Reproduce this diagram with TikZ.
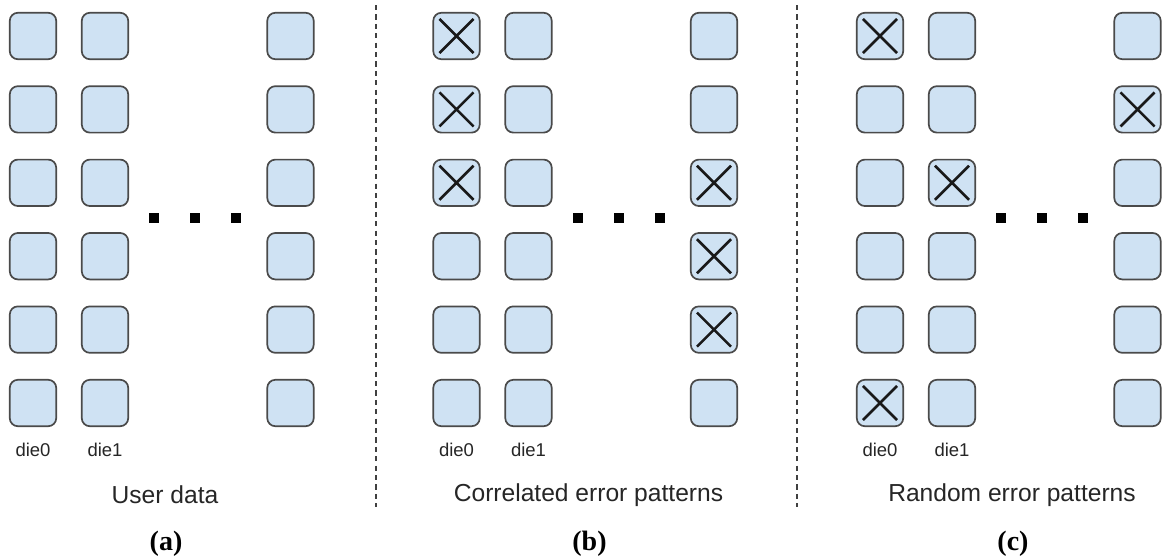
\documentclass[tikz,border=0pt]{standalone}
\usepackage{fontspec}
\setmainfont{Liberation Serif}
\setsansfont{Liberation Sans}
\usepackage{tikz}
\usetikzlibrary{positioning}
\definecolor{cellblue}{HTML}{CFE2F3}
\definecolor{celledge}{HTML}{4A4A4A}

\begin{document}
\begin{tikzpicture}[
    x=0.5pt, y=-0.5pt,
    every cell/.style={draw=celledge, fill=cellblue, line width=0.85pt, rounded corners=4pt,
                       minimum size=23.2pt, inner sep=0pt},
    cell/.style={every cell},
    xmark/.style={line width=1.3pt, draw=black!90},
    dot/.style={fill=black, minimum size=5pt, inner sep=0pt},
    dielabel/.style={font=\sffamily\fontsize{9.25}{11}\selectfont, text=black!85},
    caption/.style={font=\sffamily\fontsize{12.3}{14}\selectfont, text=black!85},
    tag/.style={font=\bfseries\fontsize{14}{16}\selectfont},
    sep/.style={draw=black!75, line width=0.65pt, dash pattern=on 2.6pt off 2.1pt}
]
   \useasboundingbox (0,0) rectangle (1162,557);

   % three panels of dies, six rows of cells each
   \foreach \p/\dx/\txt in {a/0/User data, b/423.5/Correlated error patterns, c/847/Random error patterns} {
      \foreach \c/\cx in {0/33, 1/105, 2/290.5}
         \foreach \r in {0,...,5}
            \node[cell] (\p-\c-\r) at (\dx+\cx, 36+73.4*\r) {};

      % dots between die1 and the last die
      \node[dot] (\p-dot1) at (\dx+154, 218) {};
      \node[dot] (\p-dot2) at (\dx+195, 218) {};
      \node[dot] (\p-dot3) at (\dx+236, 218) {};

      \node[dielabel] (\p-die0) at (\dx+33, 450) {die0};
      \node[dielabel] (\p-die1) at (\dx+105, 450) {die1};
      \node[caption] (\p-caption) at (\dx+165, 495) {\txt};
      \node[tag] (\p-tag) at (\dx+166, 544) {(\p)};
   }

   % error marks
   \foreach \m in {b-0-0, b-0-1, b-0-2, b-2-2, b-2-3, b-2-4, c-0-0, c-0-5, c-1-2, c-2-1}
      \draw[xmark] ([shift={(3.5pt,-3.5pt)}]\m.north west) -- ([shift={(-3.5pt,3.5pt)}]\m.south east)
                   ([shift={(3.5pt,3.5pt)}]\m.south west) -- ([shift={(-3.5pt,-3.5pt)}]\m.north east);

   % separators
   \draw[sep] (376,5) -- (376,507);
   \draw[sep] (797,5) -- (797,507);
\end{tikzpicture}
\end{document}
